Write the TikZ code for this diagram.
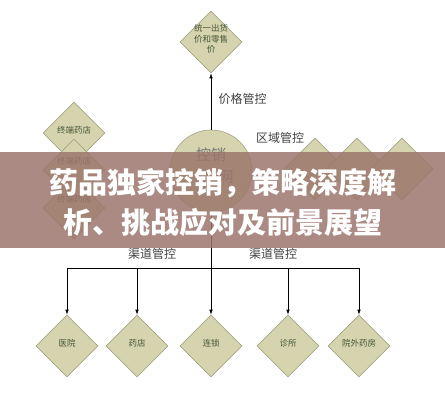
\documentclass[tikz,border=0pt]{standalone}
\usepackage{fontspec}
\usetikzlibrary{arrows.meta,shapes.geometric,positioning}
\newfontfamily\cjk{Noto Sans CJK SC}
\definecolor{cachi}{RGB}{213,212,174}
\definecolor{cachibordo}{RGB}{165,165,135}
\definecolor{verdescuro}{RGB}{70,85,55}
\definecolor{fascia}{RGB}{155,118,108}
\newcommand{\dtesto}[1]{\smash{\makebox[0pt]{\begin{tabular}{@{}c@{}}#1\end{tabular}}}}

\begin{document}
\begin{tikzpicture}[x=1pt, y=-1pt, font=\cjk, >={Latex[length=5pt,width=3.5pt]}, line width=0.6pt,
  rombo/.style={diamond, draw=cachibordo, fill=cachi, minimum width=62pt, minimum height=62pt, inner sep=0pt,
    text=verdescuro, font=\cjk\fontsize{8.5}{10.5}\selectfont},
  etichetta/.style={font=\cjk\fontsize{12}{14}\selectfont, text=black!75}]
\useasboundingbox (0,0) rectangle (445,400);
% vertice: prezzi
\node[rombo] (prz) at (211,42) {\dtesto{统一出货\\价和零售\\价}};
\node[circle, draw=cachibordo, fill=cachi, minimum size=82pt, inner sep=0pt, text=black!55,
  font=\cjk\fontsize{15}{22}\selectfont] (rete) at (211,171) {\dtesto{控销\\\phantom{控销}网}};
\draw[->] (rete) -- node[etichetta, right=4pt, pos=0.55] (lprz) {价格管控} (prz);
% terminali a sinistra
\node[rombo] (ter1) at (74,133) {\dtesto{终端药店}};
\node[rombo] (ter2) at (74,170) {\dtesto{终端药店\\\phantom{终端}}};
\node[rombo] (ter3) at (74,208) {\dtesto{终端药店\\\phantom{终端}}};
% aree a destra
\node[etichetta] (lreg) at (280,138) {区域管控};
\node[rombo] (reg1) at (315,169) {};
\node[rombo] (reg2) at (357,169) {};
\node[rombo] (reg3) at (402,169) {};
% canali
\node[rombo] (osp) at (67,346)  {\dtesto{医院}};
\node[rombo] (far) at (137,346) {\dtesto{药店}};
\node[rombo] (cat) at (211,346) {\dtesto{连锁}};
\node[rombo] (amb) at (288,346) {\dtesto{诊所}};
\node[rombo] (est) at (359,346) {\dtesto{院外药房}};
\coordinate (bus) at (211,268);
\node[etichetta] (lcan1) at (152,254) {渠道管控};
\node[etichetta] (lcan2) at (273,254) {渠道管控};
\draw (osp |- bus) -- (est |- bus);
\draw[->] (rete) -- (cat);
\foreach \c in {osp,far,amb,est}
  \draw[->] (\c |- bus) -- (\c);
% fascia del titolo
\fill[fascia, opacity=0.85] (0,152) rectangle (445,248);
\node[text=white, font=\cjk\bfseries\fontsize{29}{34}\selectfont] (tit1) at (223,183) {药品独家控销，策略深度解};
\node[text=white, font=\cjk\bfseries\fontsize{29}{34}\selectfont] (tit2) at (223,222) {析、挑战应对及前景展望};
\end{tikzpicture}
\end{document}
